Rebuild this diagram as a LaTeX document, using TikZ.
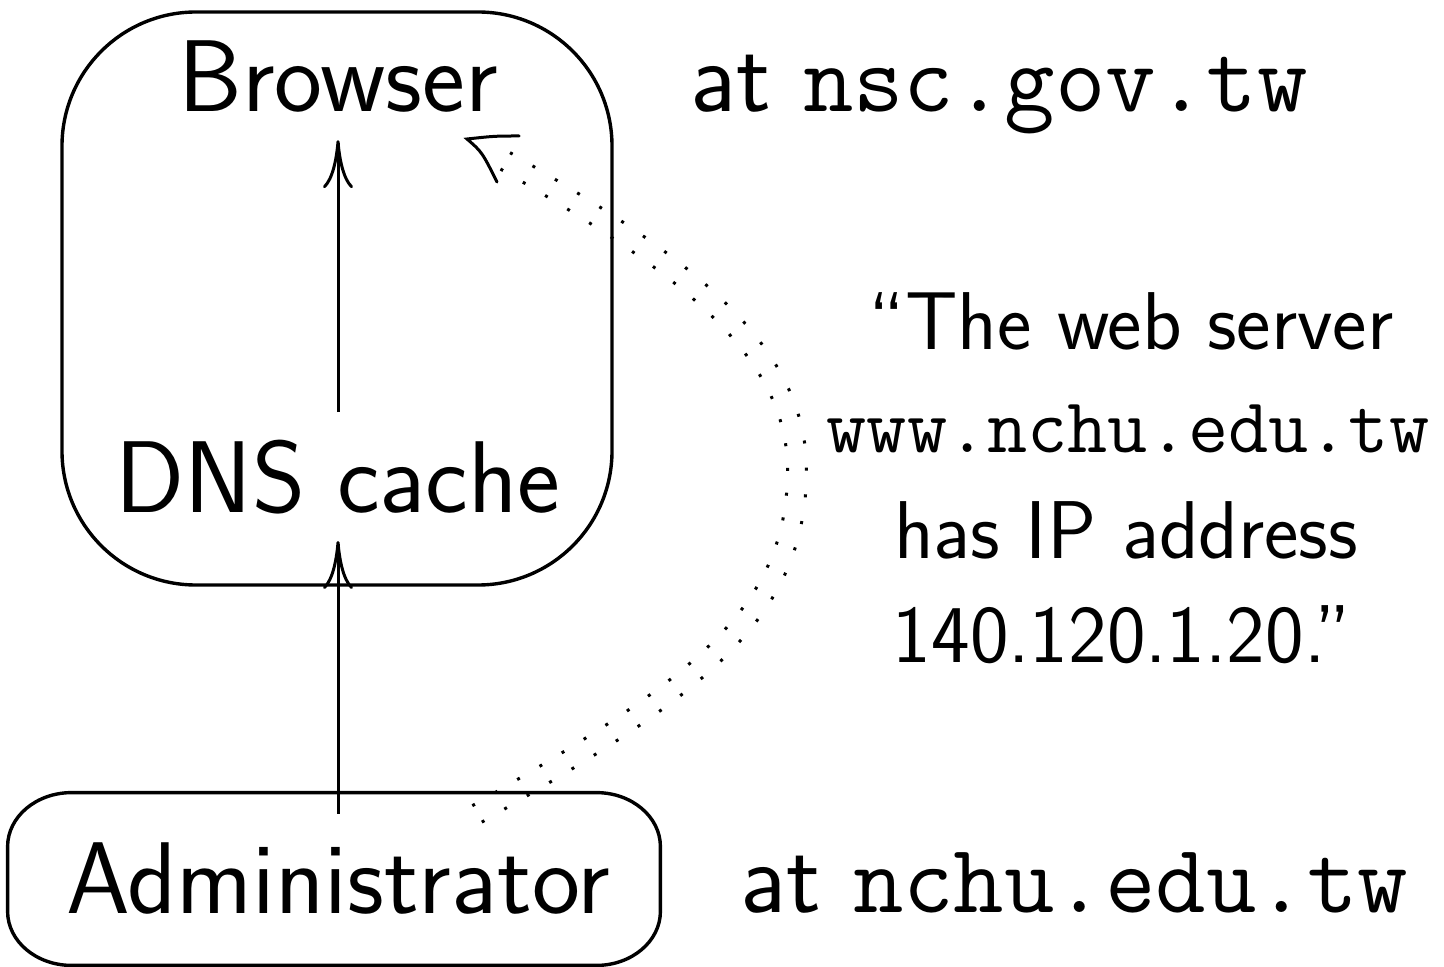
\documentclass[tikz,border=0pt]{standalone}
\usepackage{fontspec}
\usetikzlibrary{arrows.meta,decorations.markings}
\newcommand{\bigtt}{\ttfamily\fontsize{49}{58}\selectfont}
\newcommand{\qtt}{\ttfamily\fontsize{39}{47}\selectfont}
\begin{document}
\begin{tikzpicture}[x=0.5pt,y=-0.5pt,
  lbl/.style={inner sep=0pt, anchor=base, font=\sffamily\fontsize{51}{60}\selectfont},
  qt/.style={inner sep=0pt, anchor=base, font=\sffamily\fontsize{41}{49}\selectfont},
  arr/.style={line width=1.5pt, -{Computer Modern Rightarrow[length=24pt,width=15pt,line width=1.5pt]}},
  boxline/.style={draw, line width=1.7pt},
  dd/.style={decoration={markings,
      mark=between positions 0.01 and 1 step 13pt with {
        \fill (-0.75pt,3.99pt) rectangle (0.75pt,5.49pt);
        \fill (-0.75pt,-3.99pt) rectangle (0.75pt,-5.49pt);}},
      decorate},
  headline/.style={line width=1.5pt, line cap=round}]
\useasboundingbox (0,0) rectangle (1444,967);

% main rounded box
\draw[boxline, rounded corners=67pt] (62,12) rectangle (612,585);

% administrator box
\node[minimum width=326pt, minimum height=86pt, inner sep=0pt] (adminbox) at (334,879) {};
\draw[boxline] ([xshift=32pt]adminbox.north west) -- ([xshift=-32pt]adminbox.north east)
  arc[start angle=90, end angle=0, x radius=32pt, y radius=27pt]
  -- ([yshift=27pt]adminbox.south east)
  arc[start angle=0, end angle=-90, x radius=32pt, y radius=27pt]
  -- ([xshift=32pt]adminbox.south west)
  arc[start angle=-90, end angle=-180, x radius=32pt, y radius=27pt]
  -- ([yshift=-27pt]adminbox.north west)
  arc[start angle=180, end angle=90, x radius=32pt, y radius=27pt] -- cycle;

% text nodes
\node[lbl] (browser) at (338,112) {Browser};
\node[lbl] (dns) at (338,512) {DNS cache};
\node[lbl] (admin) at (338,913) {Administrator};

\node[lbl, anchor=base west] (nsc) at (690,112) {at {\bigtt nsc.gov.tw}};
\node[lbl, anchor=base west] (nchu) at (740,912) {at {\bigtt nchu.edu.tw}};

\node[qt] (q1) at (1131,350) {``The web server};
\node[qt] (q2) at (1128,452) {\qtt www.nchu.edu.tw};
\node[qt] (q3) at (1126,558) {has IP address};
\node[qt] (q4) at (1122,662) {140.120.1.20.''};

% arrows
\draw[arr] ([yshift=13.5pt]dns.north) -- ([yshift=-13.5pt]browser.south);
\draw[arr] ([yshift=14pt]admin.north) -- ([yshift=-13.5pt]dns.south);

% dotted double curve
\coordinate (ds) at (470,818);
\coordinate (dm) at (797,470);
\coordinate (de) at (490,152);
\path[dd] (ds) .. controls (687,693) and (797,620) .. (dm)
               .. controls (797,340) and (663,252) .. (de);

% arrowhead of dotted curve
\coordinate (tip) at (467,139);
\coordinate (w1) at (519,136);
\coordinate (w2) at (497,182);
\draw[headline] (w1) .. controls (495,136) .. (tip) .. controls (482,152) .. (w2);
\end{tikzpicture}
\end{document}
